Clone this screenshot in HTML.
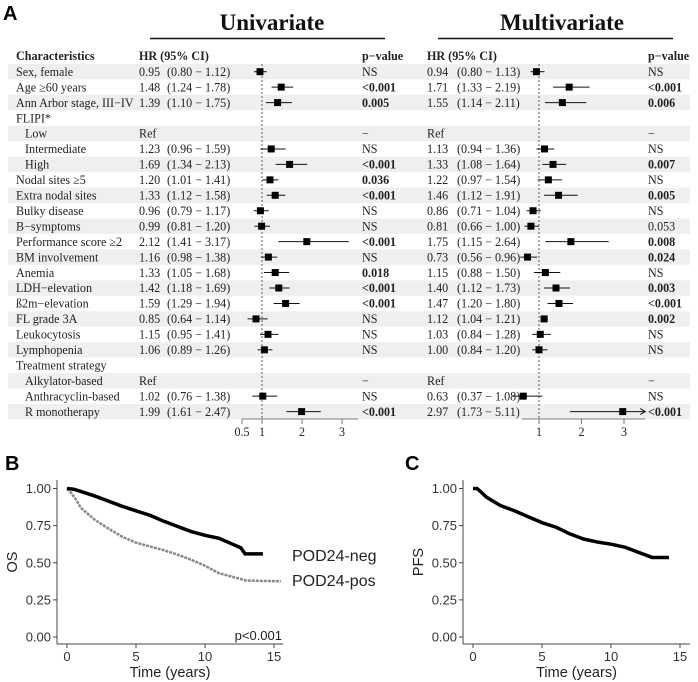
<!DOCTYPE html>
<html><head><meta charset="utf-8"><style>
body{margin:0;background:#fff}
svg{display:block}
.s{font-family:"Liberation Serif",serif;font-size:12.1px;fill:#222}
.b{font-weight:bold}
.a{font-family:"Liberation Sans",sans-serif}
</style></head><body>
<svg id="fig" width="698" height="682" viewBox="0 0 698 682">
<text x="3" y="20" class="a b" font-size="20">A</text>
<text x="272" y="30" class="s b" style="font-size:23px;fill:#111" text-anchor="middle">Univariate</text>
<line x1="150" y1="38.5" x2="385" y2="38.5" stroke="#111" stroke-width="1.5"/>
<text x="562" y="30" class="s b" style="font-size:23px;fill:#111" text-anchor="middle">Multivariate</text>
<line x1="438" y1="38.5" x2="673" y2="38.5" stroke="#111" stroke-width="1.5"/>
<g id="forest"></g>
<text x="5" y="470" class="a b" font-size="20">B</text>
<text x="405" y="470" class="a b" font-size="20">C</text>
<g id="km"></g>
</svg>
<script>
const labels=["Sex, female","Age ≥60 years","Ann Arbor stage, III−IV","FLIPI*","  Low","  Intermediate","  High","Nodal sites ≥5","Extra nodal sites","Bulky disease","B−symptoms","Performance score ≥2","BM involvement","Anemia","LDH−elevation","ß2m−elevation","FL grade 3A","Leukocytosis","Lymphopenia","Treatment strategy","  Alkylator-based","  Anthracyclin-based","  R monotherapy"];
const uniHR=[0.95,1.48,1.39,null,"Ref",1.23,1.69,1.20,1.33,0.96,0.99,2.12,1.16,1.33,1.42,1.59,0.85,1.15,1.06,null,"Ref",1.02,1.99];
const uniLo=[0.80,1.24,1.10,null,null,0.96,1.34,1.01,1.12,0.79,0.81,1.41,0.98,1.05,1.18,1.29,0.64,0.95,0.89,null,null,0.76,1.61];
const uniHi=[1.12,1.78,1.75,null,null,1.59,2.13,1.41,1.58,1.17,1.20,3.17,1.38,1.68,1.69,1.94,1.14,1.41,1.26,null,null,1.38,2.47];
const uniP=["NS","<0.001","0.005","","−","NS","<0.001","0.036","<0.001","NS","NS","<0.001","NS","0.018","<0.001","<0.001","NS","NS","NS","","−","NS","<0.001"];
const mulHR=[0.94,1.71,1.55,null,"Ref",1.13,1.33,1.22,1.46,0.86,0.81,1.75,0.73,1.15,1.40,1.47,1.12,1.03,1.00,null,"Ref",0.63,2.97];
const mulLo=[0.80,1.33,1.14,null,null,0.94,1.08,0.97,1.12,0.71,0.66,1.15,0.56,0.88,1.12,1.20,1.04,0.84,0.84,null,null,0.37,1.73];
const mulHi=[1.13,2.19,2.11,null,null,1.36,1.64,1.54,1.91,1.04,1.00,2.64,0.96,1.50,1.73,1.80,1.21,1.28,1.20,null,null,1.08,5.11];
const mulP=["NS","<0.001","0.006","","−","NS","0.007","NS","0.005","NS","0.053","0.008","0.024","NS","0.003","<0.001","0.002","NS","NS","","−","NS","<0.001"];
const uniTicks=[0.5,1,2,3];
const mulTicks=[1,2,3];

const NS="http://www.w3.org/2000/svg";
function mk(tag,attrs,parent,txt){const e=document.createElementNS(NS,tag);for(const k in attrs)e.setAttribute(k,attrs[k]);if(txt!=null)e.textContent=txt;parent.appendChild(e);return e;}
const F=document.getElementById('forest');
const rowY=i=>71.7+i*15.45;
const ux=v=>262+(v-1)*40;
const mx=v=>539+(v-1)*42.5;
const fmt=v=>v.toFixed(2);
[["Characteristics",16],["HR (95% CI)",139],["p−value",362],["HR (95% CI)",427],["p−value",648]].forEach(h=>{
 const t=mk('text',{x:h[1],y:60,class:'s b'},F,h[0]);
 
 
});
labels.forEach((lab,i)=>{
 const y=rowY(i);
 if(i%2===0){const r=mk('rect',{x:8,y:y-7.7,width:682,height:15.45,fill:'#eef0ef'},F);
  
  }
});
const d1=mk('line',{x1:ux(1),y1:64,x2:ux(1),y2:419,stroke:'#333','stroke-dasharray':'2,2','stroke-width':0.8},F);


const d2=mk('line',{x1:mx(1),y1:64,x2:mx(1),y2:419,stroke:'#333','stroke-dasharray':'2,2','stroke-width':0.8},F);


function est(hr,lo,hi,x,y,name,maxv){
 if(typeof hr!=='number')return;
 const clip=hi>maxv;
 const l=mk('line',{x1:x(lo),y1:y,x2:x(clip?maxv:hi),y2:y,stroke:'#111','stroke-width':1},F);
 
 
 if(clip){const a=mk('path',{d:`M${x(maxv)-5},${y-3}L${x(maxv)},${y}L${x(maxv)-5},${y+3}`,fill:'none',stroke:'#111'},F);
  
  }
 const b=mk('rect',{x:x(hr)-3.5,y:y-3.5,width:7,height:7,fill:'#000'},F);
 
 
}
labels.forEach((lab,i)=>{
 const y=rowY(i)+4.2;
 const ind=lab.startsWith('  ');
 const t=mk('text',{x:ind?25:16,y:y,class:'s'},F,lab.trim());
 
 
 [[uniHR,uniLo,uniHi,uniP,139,167,362,ux,'uni',3.4],[mulHR,mulLo,mulHi,mulP,427,457,648,mx,'multi',3.5]].forEach(s=>{
  const hr=s[0][i];
  if(hr==="Ref"){const r=mk('text',{x:s[4],y:y,class:'s'},F,'Ref');}
  else if(hr!=null){
   const h=mk('text',{x:s[4],y:y,class:'s'},F,fmt(hr));
   
   
   const c=mk('text',{x:s[5],y:y,class:'s'},F,`(${fmt(s[1][i])} − ${fmt(s[2][i])})`);
   
   
  }
  const p=s[3][i];
  if(p){const pt=mk('text',{x:s[6],y:y,class:'s'+(p!=="NS"&&p!=="−"&&p!=="0.053"?' b':'')},F,p);
   
   }
  est(hr,s[1][i],s[2][i],s[7],rowY(i),s[8],s[9]);
 });
});
function axis(x,ticks,x1,x2,name){
 const l=mk('line',{x1:x1,y1:419,x2:x2,y2:419,stroke:'#555','stroke-width':0.8},F);
 
 
 ticks.forEach(v=>{
  const tk=mk('line',{x1:x(v),y1:419,x2:x(v),y2:424,stroke:'#555','stroke-width':0.8},F);
  
  
  const tt=mk('text',{x:x(v),y:436,class:'s','text-anchor':'middle'},F,String(v));
  
  
 });
}
axis(ux,uniTicks,242,358,'uni');
axis(mx,mulTicks,522,645,'multi');

const negT=[0,0.5,1,2,3,4,5,6,7,8,9,10,11,12,12.6,12.9,14.2];
const negS=[1,0.995,0.98,0.95,0.915,0.88,0.85,0.82,0.78,0.745,0.71,0.685,0.665,0.625,0.6,0.56,0.56];
const posT=[0,0.3,0.7,1,2,3,4,5,6,7,8,9,10,11,12,13,15.5];
const posS=[1,0.97,0.92,0.87,0.79,0.73,0.675,0.635,0.61,0.585,0.555,0.52,0.48,0.43,0.405,0.38,0.375];
const pfsT=[0,0.3,1,2,3,4,5,6,7,8,9,10,11,12,13,14.2];
const pfsS=[1,1,0.94,0.885,0.85,0.81,0.77,0.74,0.695,0.66,0.64,0.625,0.605,0.57,0.535,0.535];
const yTicks=[0,0.25,0.5,0.75,1];
const xTicks=[0,5,10,15];
const K=document.getElementById('km');
const ky=v=>637-v*148.5;
function panel(ax,x0,xEnd,ylab,name){
 const kx=t=>x0+t*13.8;
 const a1=mk('line',{x1:ax,y1:480,x2:ax,y2:644,stroke:'#444','stroke-width':1},K);
 
 
 const a2=mk('line',{x1:ax,y1:644,x2:xEnd,y2:644,stroke:'#444','stroke-width':1},K);
 
 
 yTicks.forEach(v=>{
  const t=mk('line',{x1:ax-4,y1:ky(v),x2:ax,y2:ky(v),stroke:'#444'},K);
  
  
  const l=mk('text',{x:ax-6,y:ky(v)+4.5,class:'a','font-size':13,'text-anchor':'end',fill:'#333'},K,v.toFixed(2));
  
  
 });
 xTicks.forEach(v=>{
  const t=mk('line',{x1:kx(v),y1:644,x2:kx(v),y2:648,stroke:'#444'},K);
  
  
  const l=mk('text',{x:kx(v),y:661,class:'a','font-size':13,'text-anchor':'middle',fill:'#333'},K,String(v));
  
  
 });
 const xt=mk('text',{x:(ax+xEnd)/2,y:677,class:'a','font-size':14.5,'text-anchor':'middle',fill:'#222'},K,'Time (years)');
 
 
 const yt=mk('text',{x:0,y:0,class:'a','font-size':14.5,'text-anchor':'middle',fill:'#222',transform:`translate(${ax-40},562) rotate(-90)`},K,ylab);
 
 
 return kx;
}
function curve(kx,T,S,color,w,dash,name){
 let d=`M${kx(T[0])},${ky(S[0])}`;
 for(let i=1;i<T.length;i++){d+=`L${kx(T[i])},${ky(S[i])}`;}
 const p=mk('path',{d:d,fill:'none',stroke:color,'stroke-width':w,'stroke-dasharray':dash,'stroke-linejoin':'round'},K);
 
 
}
const kb=panel(57,67,283,'OS','os');
curve(kb,posT,posS,'#888',2.5,'3,1','curve-pod24-pos');
curve(kb,negT,negS,'#000',3.5,'none','curve-pod24-neg');
const kc=panel(463,473,690,'PFS','pfs');
curve(kc,pfsT,pfsS,'#000',3.5,'none','curve-pfs');
[["POD24-neg",561],["POD24-pos",586]].forEach(l=>{
 const t=mk('text',{x:292,y:l[1],class:'a','font-size':16,fill:'#222'},K,l[0]);
 
 
});
const pv=mk('text',{x:282,y:640,class:'a','font-size':13,'text-anchor':'end',fill:'#222'},K,'p<0.001');


</script>
</body></html>
